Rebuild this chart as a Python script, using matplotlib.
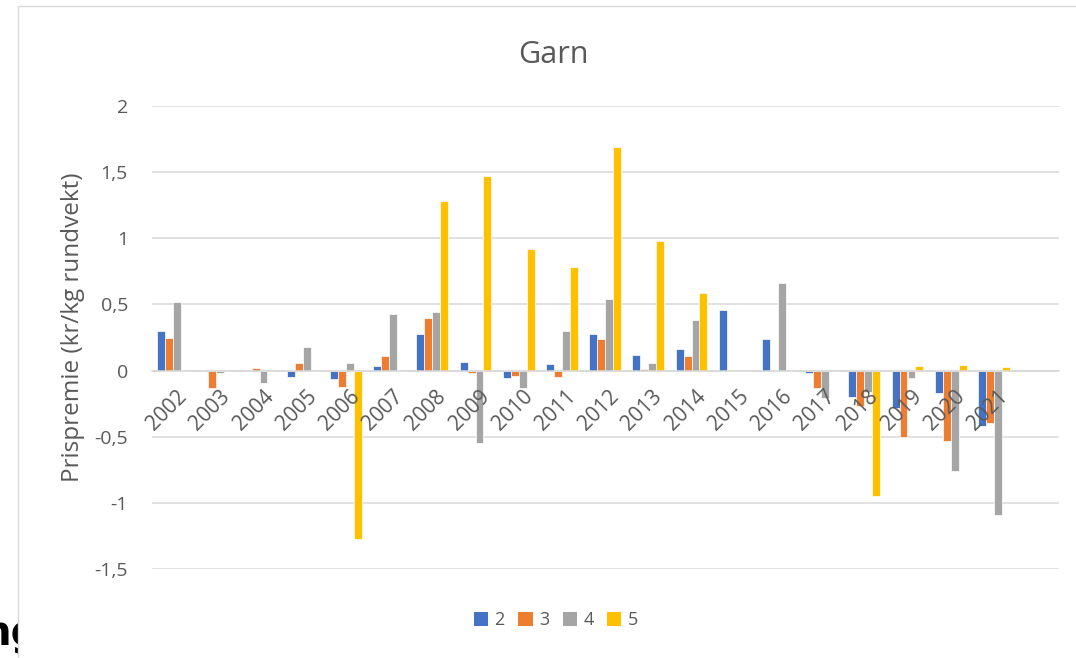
import numpy as np
import matplotlib
matplotlib.use("Agg")
from matplotlib import pyplot as plt
from matplotlib.patches import Rectangle, Patch
from matplotlib.ticker import FuncFormatter

plt.rcParams["font.family"] = ["Open Sans", "DejaVu Sans"]

years = [str(y) for y in range(2002, 2022)]
series_names = ["2", "3", "4", "5"]

# Prispremie per year for each series
s2 = [0.30, 0.005, 0.003, -0.045, -0.06, 0.035, 0.275, 0.065, -0.055, 0.05,
      0.28, 0.115, 0.165, 0.46, 0.235, -0.02, -0.20, -0.285, -0.17, -0.42]
s3 = [0.25, -0.135, 0.02, 0.06, -0.123, 0.11, 0.40, -0.015, -0.04, -0.05,
      0.24, 0.01, 0.11, 0.0, 0.0, -0.135, -0.27, -0.505, -0.535, -0.40]
s4 = [0.52, -0.015, -0.095, 0.175, 0.055, 0.43, 0.44, -0.55, -0.13, 0.30,
      0.54, 0.06, 0.38, 0.0, 0.665, -0.21, -0.16, -0.055, -0.76, -1.095]
s5 = [0.0, 0.0, 0.0, 0.0, -1.27, 0.0, 1.28, 1.47, 0.92, 0.78,
      1.69, 0.98, 0.59, 0.0, 0.0, 0.0, -0.95, 0.038, 0.045, 0.028]

colors = ["#4472C4", "#ED7D31", "#A5A5A5", "#FFC000"]
text_col = "#595959"
grid_col = "#D9D9D9"

fig = plt.figure(figsize=(10.76, 6.58), dpi=100)

# stray text from the page behind the chart, cut by the chart frame
fig.text(-17 / 1076, 1 - 645 / 658, "ng", fontsize=29, fontweight="bold",
         color="black", family="DejaVu Sans", zorder=0)
fig.patches.append(Rectangle((18 / 1076, -0.05), 1.1, 1 - 6 / 658 + 0.05,
                             transform=fig.transFigure, facecolor="white",
                             edgecolor="#D9D9D9", linewidth=1.0, zorder=0.5))

ax = fig.add_axes([151.5 / 1076, 1 - 569 / 658, (1058.7 - 151.5) / 1076, (569 - 106) / 658])
ax.set_zorder(1)

x = np.arange(len(years))
w = 0.185
for i, (vals, c, name) in enumerate(zip([s2, s3, s4, s5], colors, series_names)):
    ax.bar(x + (i - 1.5) * w, vals, width=w, color=c, edgecolor="white",
           linewidth=0.5, label=name, zorder=2)

# the category axis has one empty slot after 2021
ax.set_xlim(-0.5, len(years) + 0.5)
ax.set_ylim(-1.5, 2)
yt = np.arange(-1.5, 2.01, 0.5)
ax.set_yticks(yt)
ax.yaxis.set_major_formatter(FuncFormatter(lambda v, p: f"{v:g}".replace(".", ",")))
# gridlines behind the bars, tick labels above them
for v in yt:
    ax.axhline(v, color=grid_col, linewidth=1.1, zorder=0.5)
ax.set_axisbelow(False)

for s in ["top", "right", "left"]:
    ax.spines[s].set_visible(False)
ax.spines["bottom"].set_position(("data", 0))
ax.spines["bottom"].set_color(grid_col)
ax.spines["bottom"].set_linewidth(1.1)

ax.set_xticks(x + 0.08)
ax.set_xticklabels(years, rotation=45, ha="right", va="top", rotation_mode="anchor")
ax.tick_params(axis="x", length=0, labelsize=15, labelcolor=text_col, pad=11)
ax.tick_params(axis="y", length=0, labelsize=14, labelcolor=text_col, pad=17)

ax.set_ylabel("Prispremie (kr/kg rundvekt)", fontsize=17.5, color=text_col)
ax.yaxis.set_label_coords(-0.0735, 0.523)

fig.text(553 / 1076, 1 - 63 / 658, "Garn", fontsize=22, color=text_col,
         ha="center", va="baseline")

handles = [Patch(facecolor=c, edgecolor="none") for c in colors]
fig.legend(handles, series_names, loc="center", bbox_to_anchor=(556 / 1076, 1 - 620 / 658),
           ncol=4, frameon=False, fontsize=13, labelcolor=text_col,
           handlelength=0.78, handleheight=0.78, handletextpad=0.35, columnspacing=0.76)

fig.savefig("out.png", dpi=100)
